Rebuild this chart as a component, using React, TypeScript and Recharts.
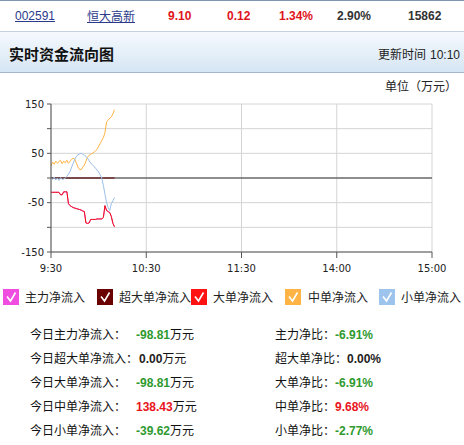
import React from 'react';
import { LineChart, Line, XAxis, YAxis, CartesianGrid, ReferenceLine } from 'recharts';

// minutes since 9:30 (trading minutes)
const minutes = [0,1,2,3,4,5,6,7,8,9,10,11,12,13,14,15,16,17,18,19,20,21,22,23,24,25,26,27,28,29,30,31,32,33,34,35,36,37,38,39,40];

const mainFlow = [-29,-29,-29,-29,-29,-29,-34,-34,-28,-28,-28,-52,-56,-58,-60,-61,-62,-63,-64,-65,-67,-68,-91,-92,-91,-84,-84,-84,-84,-83,-83,-83,-83,-80,-56,-66,-68,-70,-78,-92,-98.81];
const superBigFlow = [0,0,0,0,0,0,0,0,0,0,0,0,0,0,0,0,0,0,0,0,0,0,0,0,0,0,0,0,0,0,0,0,0,0,0,0,0,0,0,0,0];
const bigFlow = [-29,-29,-29,-29,-29,-29,-34,-34,-28,-28,-28,-52,-56,-58,-60,-61,-62,-63,-64,-65,-67,-68,-91,-92,-91,-84,-84,-84,-84,-83,-83,-83,-83,-80,-56,-66,-68,-70,-78,-92,-98.81];
const mediumFlow = [25,32,28,34,30,33,36,29,34,31,36,30,34,38,40,38,30,22,17,17,22,26,34,42,46,48,50,52,55,58,64,70,76,82,92,114,117,121,124,130,138.43];
const smallFlow = [0,-3,2,-4,0,-5,1,-3,-2,0,3,8,13,22,30,38,44,47,49,50,48,46,44,40,35,30,27,24,20,16,12,6,0,-15,-33,-50,-60,-66,-52,-46,-39.62];

const xTicks = [0, 60, 120, 180, 240];
const xTickLabels = ['9:30', '10:30', '11:30', '14:00', '15:00'];
const yTicks = [-150, -100, -50, 0, 50, 100, 150];
const yTickLabels = ['-150', '', '-50', '', '50', '', '150'];

const seriesNames = ['主力净流入', '超大单净流入', '大单净流入', '中单净流入', '小单净流入'];
const seriesKeys = ['main', 'superBig', 'big', 'medium', 'small'];
const seriesColors = ['#ee44dd', '#660000', '#ee1111', '#ffb340', '#99c0e8'];
const boxColors = ['#f04de0', '#6a0000', '#ff1212', '#ffb445', '#9cc4ec'];

const quote = ['002591', '恒大高新', '9.10', '0.12', '1.34%', '2.90%', '15862'];

const summaryLabels = ['今日主力净流入：', '今日超大单净流入：', '今日大单净流入：', '今日中单净流入：', '今日小单净流入：'];
const summaryValues = ['-98.81', '0.00', '-98.81', '138.43', '-39.62'];
const ratioLabels = ['主力净比：', '超大单净比：', '大单净比：', '中单净比：', '小单净比：'];
const ratioValues = ['-6.91%', '0.00%', '-6.91%', '9.68%', '-2.77%'];

const data = minutes.map((t, i) => ({
  t,
  main: mainFlow[i],
  superBig: superBigFlow[i],
  big: bigFlow[i],
  medium: mediumFlow[i],
  small: smallFlow[i],
}));

const CJK = '"Noto Sans CJK SC", "Noto Sans", sans-serif';
const LAT = '"Liberation Sans", Arial, sans-serif';

const valColor = (v: string) => (v.startsWith('-') ? '#2f9a2f' : parseFloat(v) === 0 ? '#222' : '#e8141c');

const abs = (x: number, y: number, extra: React.CSSProperties = {}): React.CSSProperties => ({
  position: 'absolute',
  left: x,
  top: y,
  whiteSpace: 'nowrap',
  ...extra,
});

function Check({ color }: { color: string }) {
  return (
    <svg width={16} height={16} style={{ display: 'block' }}>
      <rect x={0} y={0} width={16} height={16} fill={color} />
      <polyline points="4,7.5 7.5,12 12.5,3.5" fill="none" stroke="#fff" strokeWidth={1.6} />
    </svg>
  );
}

export default function App() {
  const quoteX = [15, 87, 168, 227, 279, 337, 408];
  const legendBoxX = [3, 97, 191, 285, 379];
  const legendTextX = [25, 119, 213, 308, 401];
  const rowY = [334, 358, 382, 406, 430];
  const summaryValX = [136, 139, 136, 136, 136];

  return (
    <div style={{ position: 'absolute', left: 0, top: 0, width: 464, height: 445, background: '#fff', overflow: 'hidden' }}>
      {/* top quote row */}
      <div style={abs(0, 0, { width: 464, height: 1, background: '#7f95b0' })} />
      <div style={abs(0, 31, { width: 464, height: 1, background: '#c5d1de' })} />
      {quote.map((q, i) => (
        <div
          key={q}
          style={abs(quoteX[i], 8, {
            height: 16,
            lineHeight: '16px',
            fontSize: 12,
            fontFamily: i === 1 ? CJK : LAT,
            fontWeight: i >= 2 ? 'bold' : 'normal',
            color: i < 2 ? '#2b3a8a' : i < 5 ? '#e0141c' : '#333',
            textDecoration: i < 2 ? 'underline' : 'none',
          })}
        >
          {q}
        </div>
      ))}

      {/* header band */}
      <div
        style={abs(0, 32, {
          width: 464,
          height: 40,
          background: 'linear-gradient(#f5f9fd, #d6e6f4)',
          borderBottom: '1px solid #a3b6ca',
        })}
      />
      <div style={abs(9, 44, { height: 20, lineHeight: '20px', fontSize: 15, fontWeight: 'bold', fontFamily: CJK, color: '#111' })}>
        实时资金流向图
      </div>
      <div style={abs(378, 46, { height: 16, lineHeight: '16px', fontSize: 12, fontFamily: CJK, color: '#222' })}>
        更新时间
        <span style={{ fontFamily: LAT, marginLeft: 4 }}>10:10</span>
      </div>
      <div style={abs(385, 78, { height: 16, lineHeight: '16px', fontSize: 12, fontFamily: CJK, color: '#222' })}>
        单位（万元）
      </div>

      {/* chart */}
      <div style={abs(0, 95)}>
        <LineChart width={464} height={190} data={data} margin={{ top: 9, right: 32, left: 11, bottom: 13 }}>
          <CartesianGrid stroke="#d4d4d4" strokeWidth={1} />
          <XAxis
            dataKey="t"
            type="number"
            domain={[0, 240]}
            ticks={xTicks}
            tickFormatter={(v: number) => xTickLabels[xTicks.indexOf(v)]}
            height={20}
            tickSize={6}
            tickMargin={7}
            stroke="#555"
            tick={{ fill: '#222', fontSize: 10, fontFamily: '"DejaVu Sans", sans-serif' }}
            interval={0}
          />
          <YAxis
            type="number"
            domain={[-150, 150]}
            ticks={yTicks}
            tickFormatter={(v: number) => yTickLabels[yTicks.indexOf(v)]}
            width={40}
            tickSize={4}
            tickMargin={3}
            stroke="#555"
            tick={{ fill: '#222', fontSize: 10, fontFamily: '"DejaVu Sans", sans-serif' }}
            interval={0}
          />
          <ReferenceLine y={0} stroke="#333" strokeWidth={1} />
          {seriesKeys.map((k, i) => (
            <Line
              key={k}
              dataKey={k}
              name={seriesNames[i]}
              stroke={seriesColors[i]}
              strokeWidth={1}
              dot={false}
              activeDot={false}
              type="linear"
              isAnimationActive={false}
            />
          ))}
        </LineChart>
      </div>

      {/* legend */}
      {seriesNames.map((n, i) => (
        <React.Fragment key={n}>
          <div style={abs(legendBoxX[i], 289)}>
            <Check color={boxColors[i]} />
          </div>
          <div style={abs(legendTextX[i], 289, { height: 16, lineHeight: '16px', fontSize: 12, fontFamily: CJK, color: '#222' })}>
            {n}
          </div>
        </React.Fragment>
      ))}

      {/* summary table */}
      {summaryLabels.map((l, i) => (
        <React.Fragment key={l}>
          <div style={abs(30, rowY[i] - 8, { height: 16, lineHeight: '16px', fontSize: 12, fontFamily: CJK, color: '#111' })}>{l}</div>
          <div style={abs(summaryValX[i], rowY[i] - 8, { height: 16, lineHeight: '16px', fontSize: 12, color: '#111' })}>
            <span style={{ fontFamily: LAT, fontWeight: 'bold', color: valColor(summaryValues[i]) }}>{summaryValues[i]}</span>
            <span style={{ fontFamily: CJK }}>万元</span>
          </div>
          <div style={abs(275, rowY[i] - 8, { height: 16, lineHeight: '16px', fontSize: 12, color: '#111' })}>
            <span style={{ fontFamily: CJK }}>{ratioLabels[i]}</span>
            <span style={{ fontFamily: LAT, fontWeight: 'bold', color: valColor(ratioValues[i]) }}>{ratioValues[i]}</span>
          </div>
        </React.Fragment>
      ))}
    </div>
  );
}
